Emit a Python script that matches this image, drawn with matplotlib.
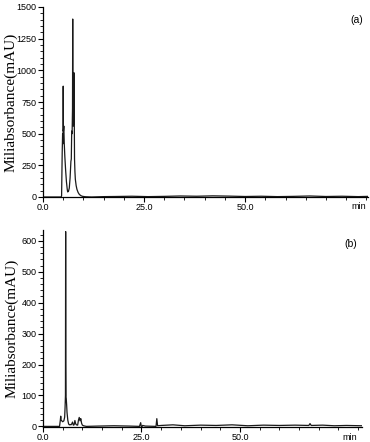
import matplotlib
matplotlib.use("Agg")
import matplotlib.pyplot as plt
from matplotlib.ticker import MultipleLocator

# ---- data ----
time_a = [0, 2, 4.5, 4.6, 4.75, 4.85, 4.95, 5.0, 5.05, 5.15, 5.25, 5.4, 5.6, 5.8,
          6.0, 6.1, 6.3, 6.5, 6.7, 6.9, 7.0, 7.1, 7.2, 7.3, 7.35, 7.4, 7.5, 7.6,
          7.7, 7.75, 7.8, 7.9, 8.0, 8.2, 8.4, 8.7, 9.0, 9.4, 9.8, 10.5, 12,
          15, 18, 22, 26, 30, 34, 38, 42, 46, 50, 54, 58, 62, 66, 70, 74, 78, 80.4]
abs_a = [0, 0, 0, 10, 350, 500, 420, 875, 520, 560, 430, 320, 210, 120,
         60, 40, 45, 70, 150, 280, 300, 520, 500, 700, 1405, 700, 560, 600,
         980, 560, 300, 200, 140, 90, 60, 35, 20, 10, 5, 2, 0,
         3, 4, 6, 3, 5, 8, 6, 9, 7, 4, 6, 3, 5, 8, 4, 6, 3, 5]

time_b = [0, 4.2, 4.4, 4.5, 4.6, 5.0, 5.3, 5.5, 5.6, 5.7, 5.75, 5.8, 5.85, 5.9,
          6.0, 6.1, 6.3, 6.5, 6.7, 6.9, 7.1, 7.3, 7.5, 7.7, 7.9, 8.1, 8.3, 8.5,
          8.8, 9.0, 9.2, 9.4, 9.6, 9.8, 10.0, 10.3, 11, 14, 18, 22, 24.5, 24.8,
          25.0, 25.3, 26, 28.7, 28.9, 29.1, 30, 33, 36, 40, 44, 48, 52, 56, 60,
          64, 67.5, 67.8, 68.1, 71, 74, 77, 81]
abs_b = [0, 0, 20, 33, 20, 15, 18, 30, 60, 100, 630, 200, 95, 90,
         70, 45, 20, 8, 5, 6, 5, 8, 14, 4, 5, 19, 8, 5,
         4, 20, 29, 18, 25, 10, 4, 2, 0, 1, 2, 1, 0, 12,
         -4, 3, 1, 0, 25, 2, 3, 5, 2, 4, 3, 5, 2, 4, 3,
         4, 3, 9, 3, 4, 2, 3, 2]

yticks_a = [0, 250, 500, 750, 1000, 1250, 1500]
yticks_b = [0, 100, 200, 300, 400, 500, 600]
xticks = [0, 25, 50]
xtick_labels = ["0.0", "25.0", "50.0"]

fig = plt.figure(figsize=(3.7, 4.42), dpi=100)

ax_a = fig.add_axes([43/370, 1-197/442, 325/370, 190/442])
ax_b = fig.add_axes([43/370, 1-427/442, 319/370, 197/442])

tick_font = dict(family="Liberation Sans", size=6.5)

def style(ax, xmax, ymin, ymax, yticks, ymin_step, label):
    ax.set_xlim(0, xmax)
    ax.set_ylim(ymin, ymax)
    for s in ("top", "right"):
        ax.spines[s].set_visible(False)
    for s in ("left", "bottom"):
        ax.spines[s].set_linewidth(0.9)
    ax.set_xticks(xticks)
    ax.set_xticklabels(xtick_labels, **tick_font)
    ax.xaxis.set_minor_locator(MultipleLocator(5))
    ax.set_yticks(yticks)
    ax.set_yticklabels([str(v) for v in yticks], **tick_font)
    ax.yaxis.set_minor_locator(MultipleLocator(ymin_step))
    ax.tick_params(axis="both", which="major", length=3.5, width=0.8, pad=1, direction="out")
    ax.tick_params(axis="both", which="minor", length=2, width=0.6, direction="out")
    ax.set_ylabel("Miliabsorbance(mAU)", family="Liberation Serif", size=11)
    ax.text(78, ymin - (ymax - ymin) * 0.028, "min", ha="center", va="top", **tick_font)
    ax.text(0.965, 0.93, label, transform=ax.transAxes, ha="center", va="center",
            family="Liberation Sans", size=7.5)

ax_a.plot(time_a, abs_a, color="#1a1a1a", lw=0.9)
style(ax_a, 80.4, 0, 1500, yticks_a, 50, "(a)")

ax_b.plot(time_b, abs_b, color="#1a1a1a", lw=0.9)
style(ax_b, 81, -2, 635, yticks_b, 20, "(b)")

for ax in (ax_a, ax_b):
    ax.yaxis.set_label_coords(-0.078, 0.5)

fig.savefig("out.png", dpi=100)
